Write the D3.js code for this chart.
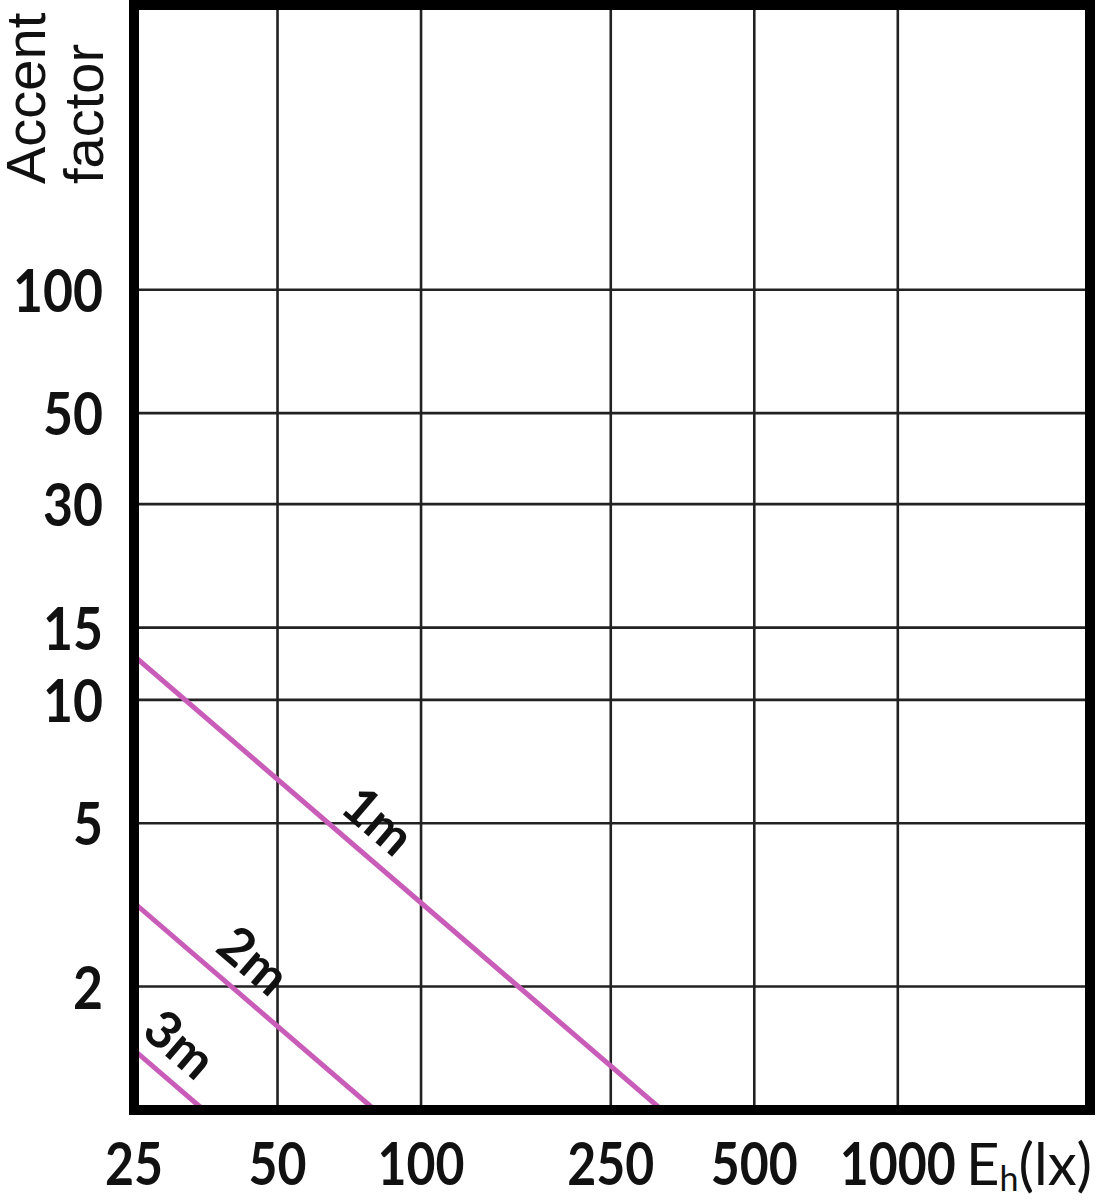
<!DOCTYPE html>
<html><head><meta charset="utf-8">
<script src="https://cdn.jsdelivr.net/npm/d3@7"></script>
<style>body{margin:0;background:#fff}</style>
</head><body>
<svg id="c" width="1104" height="1200"></svg>
<script>
// ---- data ----
const xTicks = [25, 50, 100, 250, 500, 1000];
const xTickLabels = ["25", "50", "100", "250", "500", "1000"];
const yTicks = [2, 5, 10, 15, 30, 50, 100];
const yTickLabels = ["2", "5", "10", "15", "30", "50", "100"];
const seriesNames = ["1m", "2m", "3m"];
const line1m = [[25, 12.8], [320, 1]];
const line2m = [[25, 3.2], [80, 1]];
const line3m = [[25, 1.4], [35, 1]];
const labelAtE = [73, 40, 28];
const xDomain = [25, 2530];
const yDomain = [1, 500];

// ---- chart ----
const svg = d3.select("#c");
const L = 134, R = 1090, T = 3, B = 1110;
const x = d3.scaleLog().domain(xDomain).range([L, R]);
const y = d3.scaleLog().domain(yDomain).range([B, T]);
const gridColor = "#222";
const lineColor = "#c95cb8";
const numFont = "Lato, 'Open Sans', sans-serif";

// grid
svg.append("g").selectAll("line").data(xTicks.slice(1)).join("line")
  .attr("x1", d => x(d)).attr("x2", d => x(d)).attr("y1", T).attr("y2", B)
  .attr("stroke", gridColor).attr("stroke-width", 2.6);
svg.append("g").selectAll("line").data(yTicks).join("line")
  .attr("y1", d => y(d)).attr("y2", d => y(d)).attr("x1", L).attr("x2", R)
  .attr("stroke", gridColor).attr("stroke-width", 2.6);

// series lines
const series = [line1m, line2m, line3m];
svg.append("clipPath").attr("id", "clip").append("rect")
  .attr("x", L).attr("y", T).attr("width", R - L).attr("height", B - T);
const lineGen = d3.line().x(d => x(d[0])).y(d => y(d[1]));
svg.append("g").attr("clip-path", "url(#clip)").selectAll("path").data(series).join("path")
  .attr("d", lineGen).attr("fill", "none").attr("stroke", lineColor).attr("stroke-width", 5);

// series labels
series.forEach((s, i) => {
  const [p0, p1] = s;
  const x0 = x(p0[0]), y0 = y(p0[1]), x1 = x(p1[0]), y1 = y(p1[1]);
  const ang = Math.atan2(y1 - y0, x1 - x0);
  const px = x(labelAtE[i]);
  const t = (px - x0) / (x1 - x0);
  const py = y0 + t * (y1 - y0);
  const off = 16;
  const nx = Math.sin(ang) * off, ny = -Math.cos(ang) * off;
  svg.append("text")
    .attr("transform", `translate(${px + nx},${py + ny}) rotate(${ang * 180 / Math.PI})`)
    .attr("text-anchor", "middle")
    .attr("font-family", numFont).attr("font-size", 52).attr("font-weight", "bold")
    .attr("fill", "#111")
    .text(seriesNames[i]);
});

// frame
svg.append("rect").attr("x", L).attr("y", T + 2).attr("width", R - L).attr("height", B - T - 2)
  .attr("fill", "none").attr("stroke", "#000").attr("stroke-width", 10);

// x tick labels
svg.append("g").selectAll("text").data(xTicks).join("text")
  .attr("x", d => x(d)).attr("y", 1185)
  .attr("text-anchor", "middle")
  .attr("font-family", numFont).attr("font-size", 60).attr("font-weight", "bold")
  .attr("fill", "#111")
  .attr("textLength", (d, i) => xTickLabels[i].length * 29)
  .attr("lengthAdjust", "spacingAndGlyphs")
  .text((d, i) => xTickLabels[i]);

// x axis title E_h(lx)
const xt = svg.append("text").attr("x", 966).attr("y", 1185)
  .attr("font-family", numFont).attr("font-size", 58).attr("fill", "#111");
xt.append("tspan").text("E");
xt.append("tspan").attr("font-size", 34).attr("dy", 6).text("h");
xt.append("tspan").attr("dy", -6).text("(lx)");

// y tick labels
svg.append("g").selectAll("text").data(yTicks).join("text")
  .attr("x", 103).attr("y", d => y(d) + 22)
  .attr("text-anchor", "end")
  .attr("font-family", numFont).attr("font-size", 60).attr("font-weight", "bold")
  .attr("fill", "#111")
  .attr("textLength", (d, i) => yTickLabels[i].length * 30)
  .attr("lengthAdjust", "spacingAndGlyphs")
  .text((d, i) => yTickLabels[i]);

// y axis title
const yt = svg.append("text").attr("transform", "translate(45,184) rotate(-90)")
  .attr("font-family", "'Liberation Sans', Arial, sans-serif").attr("font-size", 56).attr("fill", "#111");
yt.append("tspan").attr("x", 0).attr("y", 0).text("Accent");
yt.append("tspan").attr("x", 0).attr("y", 58).text("factor");
</script>
</body></html>
